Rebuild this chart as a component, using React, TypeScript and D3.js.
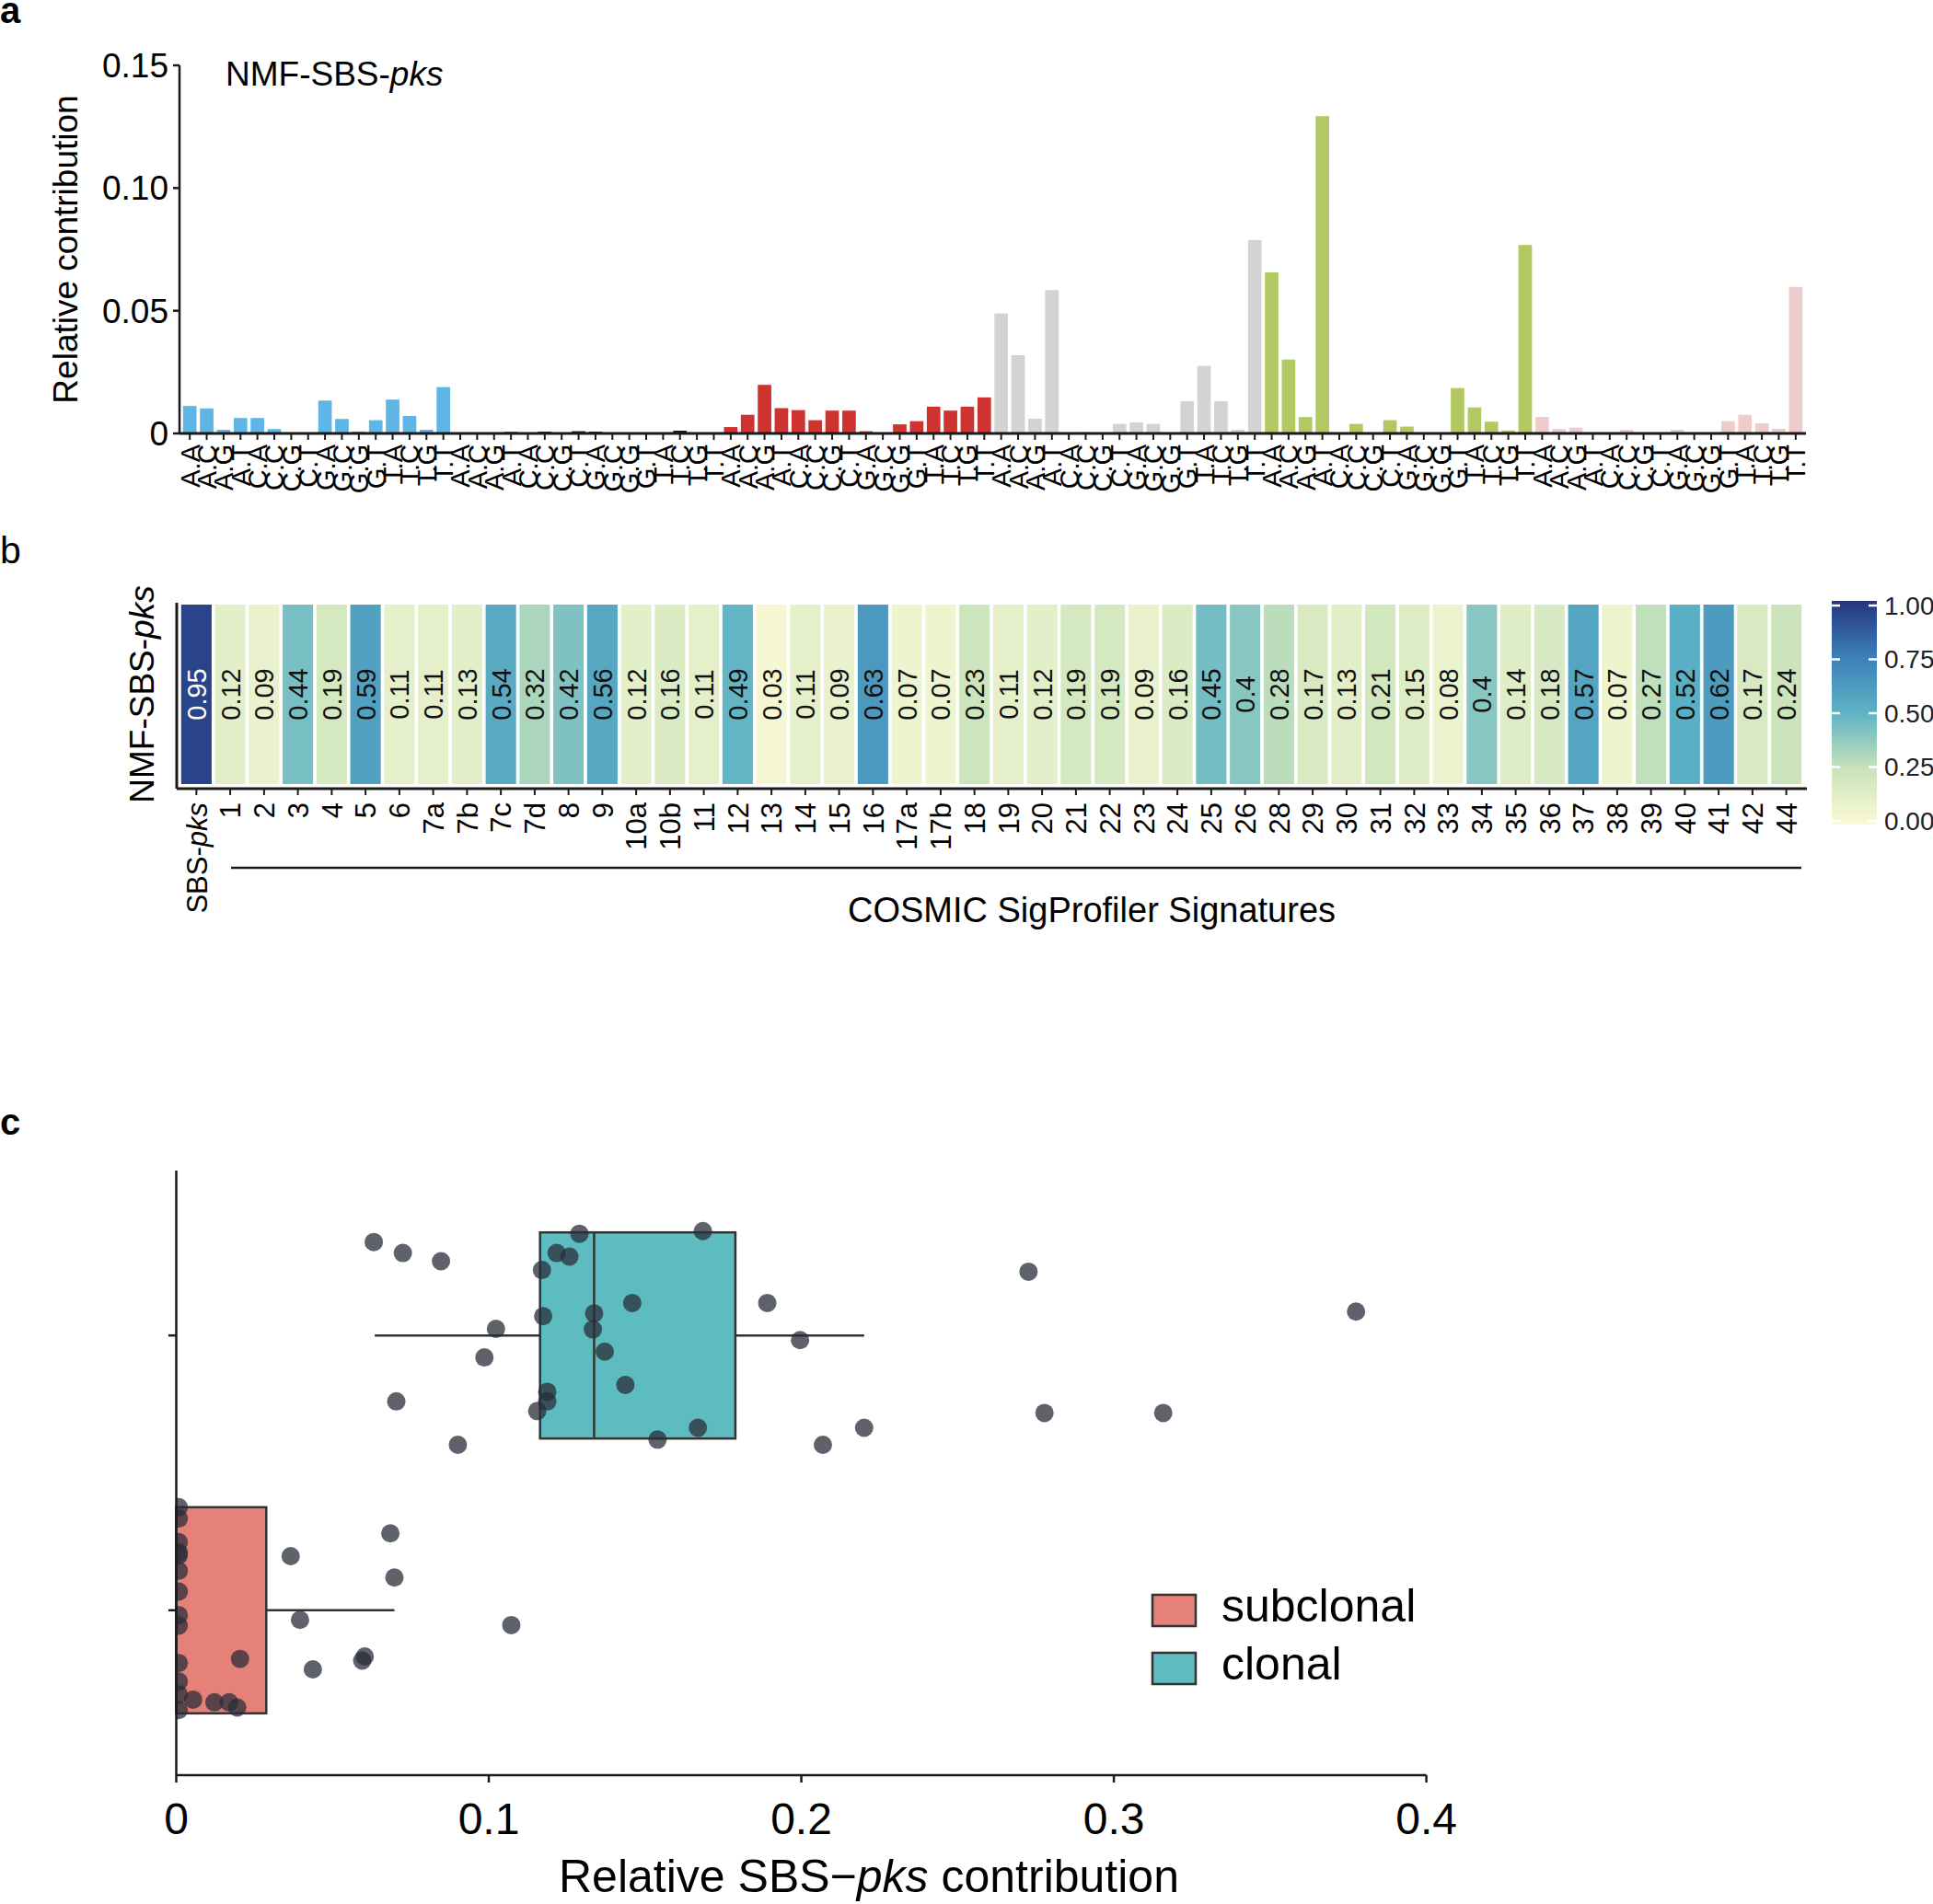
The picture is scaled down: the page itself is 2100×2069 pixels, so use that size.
import React from "react";
import * as d3 from "d3";

// ---------- Panel a data ----------
const contexts = ["A.A","A.C","A.G","A.T","C.A","C.C","C.G","C.T","G.A","G.C","G.G","G.T","T.A","T.C","T.G","T.T"];
const mutationTypes = ["C>A","C>G","C>T","T>A","T>C","T>G"];
const typeColors = ["#5FB6E6","#111111","#CF3330","#D4D2D3","#B2C963","#EDCDCC"];
const caValues = [0.0112,0.0102,0.0015,0.0063,0.0063,0.0018,0.0003,0.0002,0.0134,0.0059,0.0008,0.0054,0.0138,0.0071,0.0015,0.0189];
const cgValues = [0.0002,0.0002,0.0003,0.0006,0.0003,0.0007,0.0003,0.0009,0.0007,0.0002,0.0002,0.0002,0.0003,0.0011,0.0002,0.0002];
const ctValues = [0.0026,0.0076,0.0198,0.0103,0.0095,0.0054,0.0093,0.0093,0.0009,0.0003,0.0037,0.005,0.0109,0.0093,0.0109,0.0147];
const taValues = [0.0489,0.0319,0.006,0.0584,0.0003,0.0005,0.0003,0.0039,0.0045,0.0039,0.0003,0.0131,0.0275,0.0131,0.0015,0.0788];
const tcValues = [0.0656,0.0301,0.0067,0.1293,0.0002,0.0039,0.0002,0.0054,0.0028,0.0002,0.0002,0.0185,0.0106,0.0048,0.0012,0.0768];
const tgValues = [0.0067,0.0018,0.0024,0.0004,0.0003,0.0015,0.0003,0.0003,0.0015,0.0003,0.0003,0.005,0.0076,0.0041,0.0019,0.0597];
const spectrum = [caValues, cgValues, ctValues, taValues, tcValues, tgValues];
const yTicksA = [0, 0.05, 0.1, 0.15];
const yTickLabelsA = ["0", "0.05", "0.10", "0.15"];

// ---------- Panel b data ----------
const signatureLabels = ["SBS-pks","1","2","3","4","5","6","7a","7b","7c","7d","8","9","10a","10b","11","12","13","14","15","16","17a","17b","18","19","20","21","22","23","24","25","26","28","29","30","31","32","33","34","35","36","37","38","39","40","41","42","44"];
const cosineValues = [0.95,0.12,0.09,0.44,0.19,0.59,0.11,0.11,0.13,0.54,0.32,0.42,0.56,0.12,0.16,0.11,0.49,0.03,0.11,0.09,0.63,0.07,0.07,0.23,0.11,0.12,0.19,0.19,0.09,0.16,0.45,0.4,0.28,0.17,0.13,0.21,0.15,0.08,0.4,0.14,0.18,0.57,0.07,0.27,0.52,0.62,0.17,0.24];
const colorStops = [0, 0.25, 0.5, 0.75, 1];
const colorStopColors = ["#FBFAD6", "#C9E3BA", "#5DB3C5", "#3C80B8", "#243580"];
const colorbarTicks = [0, 0.25, 0.5, 0.75, 1];

// ---------- Panel c data ----------
const groups = ["clonal", "subclonal"];
const groupColors = ["#5CBCBF", "#E6817A"];
const boxQ1 = [0.1164, 0];
const boxMedian = [0.1337, 0];
const boxQ3 = [0.1789, 0.0288];
const whiskerLow = [0.0635, 0];
const whiskerHigh = [0.2201, 0.0698];
const clonalValues = [0.0632,0.0725,0.0847,0.129,0.1685,0.1217,0.1258,0.117,0.1459,0.1891,0.1174,0.1337,0.1333,0.1023,0.1996,0.0986,0.1371,0.1437,0.0704,0.1187,0.1187,0.1155,0.1669,0.2201,0.0901,0.154,0.2069,0.2727,0.3775,0.2778,0.3158];
const clonalJitter = [-0.34,-0.3,-0.27,-0.37,-0.38,-0.3,-0.287,-0.238,-0.118,-0.118,-0.07,-0.08,-0.022,-0.024,0.017,0.08,0.059,0.18,0.24,0.205,0.24,0.275,0.336,0.336,0.398,0.379,0.398,-0.232,-0.087,0.282,0.282];
const subclonalValues = [0.0008,0.0008,0.0008,0.0008,0.0008,0.0008,0.0008,0.0008,0.0008,0.0008,0.0008,0.0008,0.0008,0.0366,0.0685,0.0698,0.0396,0.1072,0.0204,0.0603,0.0595,0.0437,0.0054,0.0122,0.0169,0.0195];
const subclonalJitter = [-0.375,-0.334,-0.248,-0.21,-0.2,-0.144,-0.068,0.018,0.056,0.192,0.259,0.306,0.363,-0.197,-0.28,-0.119,0.035,0.054,0.177,0.168,0.183,0.215,0.325,0.335,0.335,0.354];
const xTicksC = [0, 0.1, 0.2, 0.3, 0.4];
const xTickLabelsC = ["0", "0.1", "0.2", "0.3", "0.4"];
const legendOrder = ["subclonal", "clonal"];

const FONT = "'Liberation Sans', Arial, Helvetica, sans-serif";
const INK = "#1a1a1a";

export default function App() {
  // ---- panel a scales
  const bars = spectrum.flatMap((vals, g) =>
    vals.map((v, i) => ({ idx: g * 16 + i, g, ctx: contexts[i], v }))
  );
  const xA = d3.scaleBand<number>().domain(d3.range(96)).range([197, 1960]).paddingInner(0.2).paddingOuter(0.1);
  const yA = d3.scaleLinear().domain([0, 0.15]).range([471, 71]);
  const axAx = 195;

  // ---- panel b scales
  const xB = d3.scaleBand<string>().domain(signatureLabels).range([195, 1959]).paddingInner(0.1).paddingOuter(0.05);
  const cellTop = 657, cellBottom = 852;
  const color = d3.scaleLinear<string>().domain(colorStops).range(colorStopColors).interpolate(d3.interpolateRgb);
  const cbY = d3.scaleLinear().domain([0, 1]).range([892, 658]);

  // ---- panel c scales
  const xC = d3.scaleLinear().domain([0, 0.4]).range([191.5, 1549.6]);
  const yC = d3.scalePoint<string>().domain(groups).range([1272, 1929]).padding(0.6);
  const step = yC.step();
  const half = 0.375 * step;
  const points = [
    ...clonalValues.map((v, i) => ({ g: "clonal", v, j: clonalJitter[i] })),
    ...subclonalValues.map((v, i) => ({ g: "subclonal", v, j: subclonalJitter[i] })),
  ];

  return (
    <svg width={2100} height={2069} style={{ position: "absolute", left: 0, top: 0, background: "#fff" }} fontFamily={FONT}>
      <defs>
        <linearGradient id="cbgrad" x1="0" y1="1" x2="0" y2="0">
          {d3.range(0, 1.0001, 0.05).map((t) => (
            <stop key={t} offset={`${t * 100}%`} stopColor={color(t)} />
          ))}
        </linearGradient>
        <clipPath id="clipC">
          <rect x={191.5} y={1260} width={1400} height={669} />
        </clipPath>
      </defs>

      {/* ================= Panel a ================= */}
      <text x={0} y={25} fontSize={40} fontWeight="bold" fill="#000">a</text>
      <text x={245} y={93} fontSize={37} fill="#000">NMF-SBS-<tspan fontStyle="italic">pks</tspan></text>
      <text transform={`translate(84,${(yA(0) + yA(0.15)) / 2}) rotate(-90)`} textAnchor="middle" fontSize={37} fill="#000">Relative contribution</text>
      {bars.map((b) => (
        <rect key={b.idx} x={xA(b.idx)!} y={yA(b.v)} width={xA.bandwidth()} height={yA(0) - yA(b.v)} fill={typeColors[b.g]} />
      ))}
      <line x1={axAx} x2={axAx} y1={yA(0.15)} y2={yA(0)} stroke={INK} strokeWidth={2.5} />
      <line x1={axAx} x2={1962} y1={yA(0)} y2={yA(0)} stroke={INK} strokeWidth={3} />
      {yTicksA.map((t, i) => (
        <g key={t}>
          <line x1={axAx - 7} x2={axAx} y1={yA(t)} y2={yA(t)} stroke={INK} strokeWidth={2.5} />
          <text x={axAx - 12} y={yA(t)} dy="0.35em" textAnchor="end" fontSize={37} fill="#000">{yTickLabelsA[i]}</text>
        </g>
      ))}
      {bars.map((b) => {
        const cx = xA(b.idx)! + xA.bandwidth() / 2;
        return (
          <g key={"t" + b.idx}>
            <line x1={cx} x2={cx} y1={yA(0)} y2={yA(0) + 7} stroke={INK} strokeWidth={2} />
            <text transform={`translate(${cx},${yA(0) + 12}) rotate(-90)`} textAnchor="end" dy="0.36em" fontSize={29} fill="#000">{b.ctx}</text>
          </g>
        );
      })}

      {/* ================= Panel b ================= */}
      <text x={0} y={612} fontSize={41} fill="#000">b</text>
      <text transform={`translate(167,${(cellTop + cellBottom) / 2}) rotate(-90)`} textAnchor="middle" fontSize={37} fill="#000">NMF-SBS-<tspan fontStyle="italic">pks</tspan></text>
      {signatureLabels.map((s, i) => {
        const v = cosineValues[i];
        const x = xB(s)!;
        const cx = x + xB.bandwidth() / 2;
        return (
          <g key={s}>
            <rect x={x} y={cellTop} width={xB.bandwidth()} height={cellBottom - cellTop} fill={color(v)} />
            <text transform={`translate(${cx},${(cellTop + cellBottom) / 2}) rotate(-90)`} textAnchor="middle" dy="0.36em" fontSize={29} fill={v > 0.8 ? "#fff" : "#111"}>{String(v)}</text>
            <line x1={cx} x2={cx} y1={857} y2={864} stroke={INK} strokeWidth={2} />
            <text transform={`translate(${cx},${872}) rotate(-90)`} textAnchor="end" dy="0.36em" fontSize={31} fill="#000">
              {s === "SBS-pks" ? (<>SBS-<tspan fontStyle="italic">pks</tspan></>) : s}
            </text>
          </g>
        );
      })}
      <line x1={192} x2={192} y1={655} y2={857} stroke={INK} strokeWidth={3} />
      <line x1={192} x2={1963} y1={857} y2={857} stroke={INK} strokeWidth={3} />
      <line x1={251} x2={1957} y1={943} y2={943} stroke={INK} strokeWidth={2.5} />
      <text x={1186} y={1002} textAnchor="middle" fontSize={38} fill="#000">COSMIC SigProfiler Signatures</text>
      {/* colorbar */}
      <rect x={1990} y={653} width={49} height={243} fill="url(#cbgrad)" />
      {colorbarTicks.map((t) => (
        <g key={t}>
          <line x1={1990} x2={1999} y1={cbY(t)} y2={cbY(t)} stroke="#fff" strokeWidth={2.5} />
          <line x1={2030} x2={2039} y1={cbY(t)} y2={cbY(t)} stroke="#fff" strokeWidth={2.5} />
          <text x={2047} y={cbY(t)} dy="0.35em" fontSize={28} fill="#222">{t.toFixed(2)}</text>
        </g>
      ))}

      {/* ================= Panel c ================= */}
      <text x={0} y={1233} fontSize={40} fontWeight="bold" fill="#000">c</text>
      {groups.map((g, i) => {
        const cy = yC(g)!;
        return (
          <g key={g}>
            <line x1={xC(whiskerLow[i])} x2={xC(boxQ1[i])} y1={cy} y2={cy} stroke="#333" strokeWidth={2.5} />
            <line x1={xC(boxQ3[i])} x2={xC(whiskerHigh[i])} y1={cy} y2={cy} stroke="#333" strokeWidth={2.5} />
            <rect x={xC(boxQ1[i])} y={cy - half} width={xC(boxQ3[i]) - xC(boxQ1[i])} height={2 * half} fill={groupColors[i]} stroke="#333" strokeWidth={2.5} />
            <line x1={xC(boxMedian[i])} x2={xC(boxMedian[i])} y1={cy - half} y2={cy + half} stroke="#333" strokeWidth={2.5} />
          </g>
        );
      })}
      <g clipPath="url(#clipC)">
        {points.map((p, i) => (
          <circle key={i} cx={xC(p.v)} cy={yC(p.g)! + p.j * step} r={10} fill="#2a2e38" fillOpacity={0.75} />
        ))}
      </g>
      <line x1={191.5} x2={191.5} y1={1272} y2={1929} stroke={INK} strokeWidth={2.5} />
      <line x1={191.5} x2={1549.6} y1={1929} y2={1929} stroke={INK} strokeWidth={2.5} />
      {groups.map((g) => (
        <line key={g} x1={183} x2={191.5} y1={yC(g)!} y2={yC(g)!} stroke={INK} strokeWidth={2.5} />
      ))}
      {xTicksC.map((t, i) => (
        <g key={t}>
          <line x1={xC(t)} x2={xC(t)} y1={1929} y2={1937} stroke={INK} strokeWidth={2.5} />
          <text x={xC(t)} y={1993} textAnchor="middle" fontSize={48} fill="#000">{xTickLabelsC[i]}</text>
        </g>
      ))}
      <text x={944} y={2056} textAnchor="middle" fontSize={50} fill="#000">
        Relative SBS−<tspan fontStyle="italic">pks</tspan> contribution
      </text>
      {legendOrder.map((g, i) => {
        const gi = groups.indexOf(g);
        const y = 1733 + i * 63;
        return (
          <g key={g}>
            <rect x={1252} y={y} width={47} height={34} fill={groupColors[gi]} stroke="#333" strokeWidth={2.5} />
            <text x={1327} y={y + 29} fontSize={50} fill="#000">{g}</text>
          </g>
        );
      })}
    </svg>
  );
}
